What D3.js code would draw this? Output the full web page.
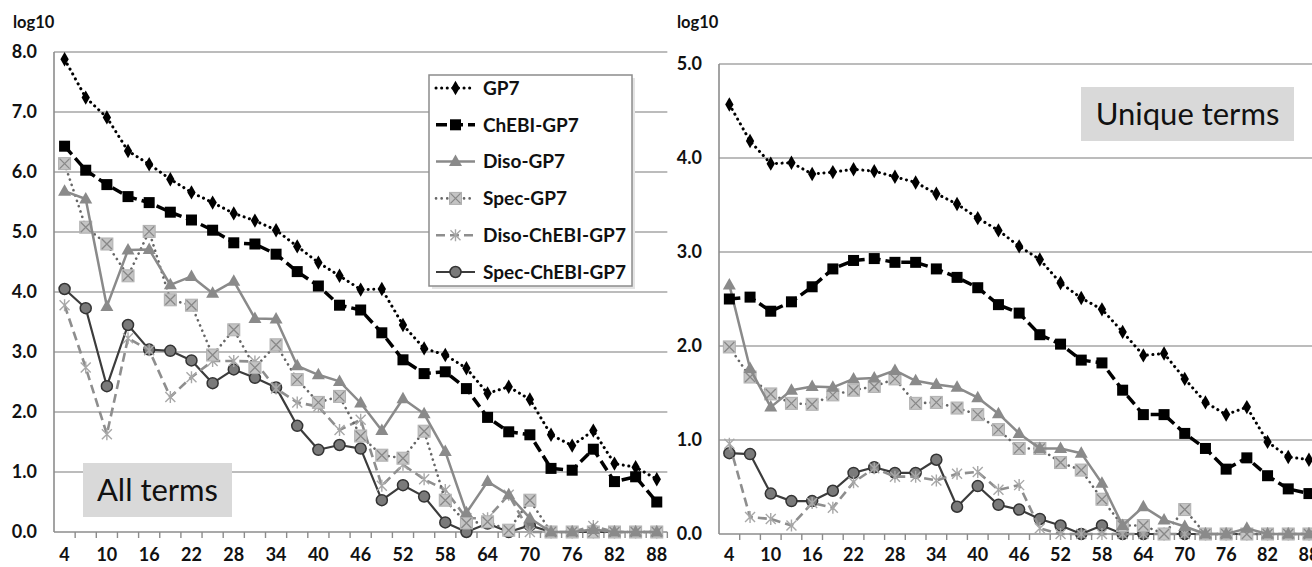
<!DOCTYPE html>
<html>
<head>
<meta charset="utf-8">
<script src="https://cdn.jsdelivr.net/npm/d3@7"></script>
<style>
  body { margin: 0; background: #fff; overflow: hidden; }
  svg { display: block; font-family: Lato, "Open Sans", sans-serif; }
</style>
</head>
<body>
<div id="chart"></div>
<script>
// x categories (shared by both panels)
var xCats = [4, 7, 10, 13, 16, 19, 22, 25, 28, 31, 34, 37, 40, 43, 46, 49, 52, 55, 58, 61, 64, 67, 70, 73, 76, 79, 82, 85, 88];
var xTickLabels = [4, 10, 16, 22, 28, 34, 40, 46, 52, 58, 64, 70, 76, 82, 88];
var seriesNames = ["GP7", "ChEBI-GP7", "Diso-GP7", "Spec-GP7", "Diso-ChEBI-GP7", "Spec-ChEBI-GP7"];

// left panel: all terms (log10)
var allGP7      = [7.88, 7.24, 6.91, 6.35, 6.13, 5.88, 5.66, 5.49, 5.31, 5.19, 5.03, 4.76, 4.49, 4.27, 4.04, 4.05, 3.45, 3.06, 2.95, 2.73, 2.31, 2.42, 2.21, 1.62, 1.44, 1.69, 1.14, 1.08, 0.88];
var allChEBI    = [6.43, 6.03, 5.79, 5.59, 5.49, 5.33, 5.20, 5.03, 4.82, 4.80, 4.63, 4.34, 4.10, 3.78, 3.70, 3.32, 2.87, 2.64, 2.67, 2.39, 1.91, 1.67, 1.62, 1.06, 1.03, 1.38, 0.84, 0.92, 0.50];
var allDiso     = [5.68, 5.55, 3.76, 4.70, 4.71, 4.12, 4.26, 3.98, 4.18, 3.56, 3.55, 2.77, 2.62, 2.51, 2.15, 1.69, 2.22, 1.97, 1.34, 0.32, 0.84, 0.62, 0.23, 0, 0, 0.04, 0, 0, 0];
var allSpec     = [6.14, 5.08, 4.80, 4.27, 5.01, 3.87, 3.78, 2.95, 3.37, 2.74, 3.12, 2.54, 2.16, 2.26, 1.60, 1.28, 1.23, 1.68, 0.53, 0.15, 0.17, 0.03, 0.53, 0, 0, 0, 0, 0, 0];
var allDisoChEBI = [3.78, 2.74, 1.63, 3.23, 3.03, 2.25, 2.58, 2.85, 2.85, 2.84, 2.39, 2.16, 2.09, 1.70, 1.87, 0.77, 1.12, 0.88, 0.70, 0.23, 0.23, 0.62, 0, 0, 0, 0.10, 0, 0, 0];
var allSpecChEBI = [4.05, 3.73, 2.43, 3.45, 3.04, 3.02, 2.86, 2.48, 2.71, 2.57, 2.41, 1.77, 1.37, 1.45, 1.39, 0.53, 0.78, 0.59, 0.16, 0, 0.14, 0, 0.11, 0, 0, 0, 0, 0, 0];

// right panel: unique terms (log10)
var uniqGP7      = [4.57, 4.18, 3.94, 3.95, 3.83, 3.85, 3.88, 3.86, 3.80, 3.74, 3.62, 3.51, 3.36, 3.23, 3.06, 2.92, 2.67, 2.51, 2.39, 2.15, 1.90, 1.92, 1.65, 1.40, 1.27, 1.35, 0.98, 0.82, 0.79];
var uniqChEBI    = [2.50, 2.52, 2.37, 2.47, 2.63, 2.82, 2.91, 2.93, 2.89, 2.89, 2.82, 2.73, 2.62, 2.44, 2.35, 2.12, 2.02, 1.85, 1.82, 1.53, 1.27, 1.27, 1.07, 0.91, 0.69, 0.81, 0.62, 0.48, 0.43];
var uniqDiso     = [2.65, 1.76, 1.35, 1.53, 1.57, 1.56, 1.65, 1.66, 1.74, 1.63, 1.59, 1.56, 1.45, 1.28, 1.07, 0.91, 0.91, 0.86, 0.54, 0.09, 0.29, 0.15, 0.08, 0, 0, 0.06, 0, 0, 0];
var uniqSpec     = [1.99, 1.67, 1.49, 1.39, 1.38, 1.48, 1.53, 1.57, 1.65, 1.39, 1.40, 1.34, 1.27, 1.11, 0.91, 0.91, 0.76, 0.68, 0.37, 0.09, 0.09, 0, 0.26, 0, 0, 0, 0, 0, 0];
var uniqDisoChEBI = [0.96, 0.18, 0.16, 0.09, 0.33, 0.28, 0.55, 0.70, 0.61, 0.61, 0.57, 0.64, 0.66, 0.47, 0.52, 0.06, 0, 0, 0, 0, 0, 0, 0, 0, 0, 0, 0, 0, 0];
var uniqSpecChEBI = [0.86, 0.85, 0.43, 0.35, 0.35, 0.46, 0.65, 0.71, 0.65, 0.65, 0.79, 0.29, 0.51, 0.31, 0.26, 0.16, 0.09, 0, 0.09, 0, 0, 0, 0, 0, 0, 0, 0, 0, 0];

var W = 1312, H = 567;
var svg = d3.select("#chart").append("svg")
  .attr("width", W).attr("height", H);

// line / marker styles per series
var styles = [
  {stroke: "#000", width: 3, dash: "0.1 5.5", cap: "round", marker: "diamond"},
  {stroke: "#000", width: 3.5, dash: "11 5", cap: "butt", marker: "square"},
  {stroke: "#8a8a8a", width: 2.5, dash: null, cap: "butt", marker: "triangle"},
  {stroke: "#666", width: 2.6, dash: "0.1 5.5", cap: "round", marker: "xbox"},
  {stroke: "#8e8e8e", width: 2.6, dash: "9 5", cap: "butt", marker: "asterisk"},
  {stroke: "#3c3c3c", width: 2.2, dash: null, cap: "butt", marker: "circle"}
];

function drawMarker(g, type) {
  if (type === "diamond") {
    g.append("path").attr("d", d3.symbol(d3.symbolDiamond, 60)()).attr("fill", "#000");
  } else if (type === "square") {
    g.append("rect").attr("x", -5.5).attr("y", -5.5).attr("width", 11).attr("height", 11).attr("fill", "#000");
  } else if (type === "triangle") {
    g.append("path").attr("d", "M0,-7L6.5,4.5L-6.5,4.5Z").attr("fill", "#8a8a8a");
  } else if (type === "xbox") {
    g.append("rect").attr("x", -6).attr("y", -6).attr("width", 12).attr("height", 12)
      .attr("fill", "#c4c4c4").attr("stroke", "#b0b0b0").attr("stroke-width", 1);
    g.append("path").attr("d", "M-5,-5L5,5M5,-5L-5,5").attr("stroke", "#888").attr("stroke-width", 1.3);
  } else if (type === "asterisk") {
    g.append("path").attr("d", "M-5,-5L5,5M5,-5L-5,5M0,-6L0,6")
      .attr("stroke", "#a8a8a8").attr("stroke-width", 1.4);
  } else if (type === "circle") {
    g.append("circle").attr("r", 5.5).attr("fill", "#7a7a7a").attr("stroke", "#333").attr("stroke-width", 1.5);
  }
}

function drawPanel(cfg) {
  var x = d3.scaleBand().domain(xCats).range(cfg.xRange);
  var y = d3.scaleLinear().domain([0, cfg.yMax]).range(cfg.yRange);
  var g = svg.append("g");

  // gridlines
  var yTicks = d3.range(0, cfg.yMax + 0.5, 1);
  g.selectAll(".grid").data(yTicks.filter(function(d) { return d > 0; }))
    .enter().append("line")
    .attr("x1", cfg.xRange[0]).attr("x2", cfg.xRange[1])
    .attr("y1", function(d) { return y(d); }).attr("y2", function(d) { return y(d); })
    .attr("stroke", "#a6a6a6").attr("stroke-width", 1.6);

  // y axis line
  g.append("line")
    .attr("x1", cfg.xRange[0]).attr("x2", cfg.xRange[0])
    .attr("y1", y(cfg.yMax)).attr("y2", y(0))
    .attr("stroke", "#8c8c8c").attr("stroke-width", 1.6);

  // x axis line + tick marks at category boundaries
  g.append("line")
    .attr("x1", cfg.xRange[0]).attr("x2", cfg.xRange[1])
    .attr("y1", y(0)).attr("y2", y(0))
    .attr("stroke", "#8c8c8c").attr("stroke-width", 1.6);
  g.selectAll(".xtick").data(xCats)
    .enter().append("line")
    .attr("x1", function(d) { return x(d) + x.bandwidth(); })
    .attr("x2", function(d) { return x(d) + x.bandwidth(); })
    .attr("y1", y(0)).attr("y2", y(0) + 6)
    .attr("stroke", "#8c8c8c").attr("stroke-width", 1.4);

  // y tick labels
  g.selectAll(".ylab").data(yTicks)
    .enter().append("text")
    .attr("x", cfg.xRange[0] - 17).attr("y", function(d) { return y(d); })
    .attr("dy", "0.35em").attr("text-anchor", "end")
    .attr("font-size", 18).attr("font-weight", "bold").attr("fill", "#111")
    .text(function(d) { return d.toFixed(1); });

  // x tick labels
  g.selectAll(".xlab").data(xTickLabels)
    .enter().append("text")
    .attr("x", function(d) { return x(d) + x.bandwidth() / 2; })
    .attr("y", 555).attr("dy", "0.35em").attr("text-anchor", "middle")
    .attr("font-size", 18).attr("font-weight", "bold").attr("fill", "#111")
    .text(function(d) { return d; });

  // y axis title
  g.append("text")
    .attr("x", cfg.titleX).attr("y", 28)
    .attr("font-size", 16.5).attr("font-weight", "bold").attr("fill", "#111")
    .text("log10");

  // series lines
  var line = d3.line()
    .x(function(d, i) { return x(xCats[i]) + x.bandwidth() / 2; })
    .y(function(d) { return y(d); });

  // draw in reverse so the black series end up on top
  for (var s = cfg.series.length - 1; s >= 0; s--) {
    var st = styles[s];
    g.append("path").datum(cfg.series[s])
      .attr("d", line).attr("fill", "none")
      .attr("stroke", st.stroke).attr("stroke-width", st.width)
      .attr("stroke-dasharray", st.dash).attr("stroke-linecap", st.cap)
      .attr("stroke-linejoin", "round");
    cfg.series[s].forEach(function(v, i) {
      var m = g.append("g")
        .attr("transform", "translate(" + (x(xCats[i]) + x.bandwidth() / 2) + "," + y(v) + ")");
      drawMarker(m, st.marker);
    });
  }

  // label box
  var lb = cfg.labelBox;
  g.append("rect").attr("x", lb.x).attr("y", lb.y).attr("width", lb.w).attr("height", lb.h)
    .attr("fill", "#d9d9d9");
  g.append("text").attr("x", lb.x + lb.w / 2).attr("y", lb.y + lb.h / 2)
    .attr("dy", "0.36em").attr("text-anchor", "middle")
    .attr("font-size", 31).attr("fill", "#111")
    .text(lb.text);

  return {x: x, y: y, g: g};
}

var left = drawPanel({
  id: "L", xRange: [54, 54 + 29 * 21.15], yRange: [532, 52], yMax: 8, titleX: 13,
  series: [allGP7, allChEBI, allDiso, allSpec, allDisoChEBI, allSpecChEBI],
  labelBox: {x: 83, y: 463, w: 149, h: 54, text: "All terms"}
});

var right = drawPanel({
  id: "R", xRange: [719, 719 + 29 * 20.7], yRange: [534, 64], yMax: 5, titleX: 677,
  series: [uniqGP7, uniqChEBI, uniqDiso, uniqSpec, uniqDisoChEBI, uniqSpecChEBI],
  labelBox: {x: 1081, y: 87, w: 213, h: 54, text: "Unique terms"}
});

// legend (left panel)
var lg = svg.append("g").attr("transform", "translate(429,75)");
lg.append("rect").attr("x", 3).attr("y", 3).attr("width", 203).attr("height", 211)
  .attr("fill", "#e4e4e4");
lg.append("rect").attr("x", 0).attr("y", 0).attr("width", 203).attr("height", 211)
  .attr("fill", "#fff").attr("stroke", "#8c8c8c").attr("stroke-width", 1.5);
seriesNames.forEach(function(name, i) {
  var st = styles[i];
  var cy = 13 + i * 36.8;
  var item = lg.append("g").attr("transform", "translate(0," + cy + ")");
  item.append("line").attr("x1", 7).attr("x2", 46).attr("y1", 0).attr("y2", 0)
    .attr("stroke", st.stroke).attr("stroke-width", st.width)
    .attr("stroke-dasharray", st.dash).attr("stroke-linecap", st.cap);
  drawMarker(item.append("g").attr("transform", "translate(26.5,0)"), st.marker);
  item.append("text").attr("x", 54).attr("y", 0).attr("dy", "0.36em")
    .attr("font-size", 19).attr("font-weight", "bold").attr("fill", "#111")
    .attr("textLength", name.length > 12 ? 143 : null)
    .text(name);
});
</script>
</body>
</html>
